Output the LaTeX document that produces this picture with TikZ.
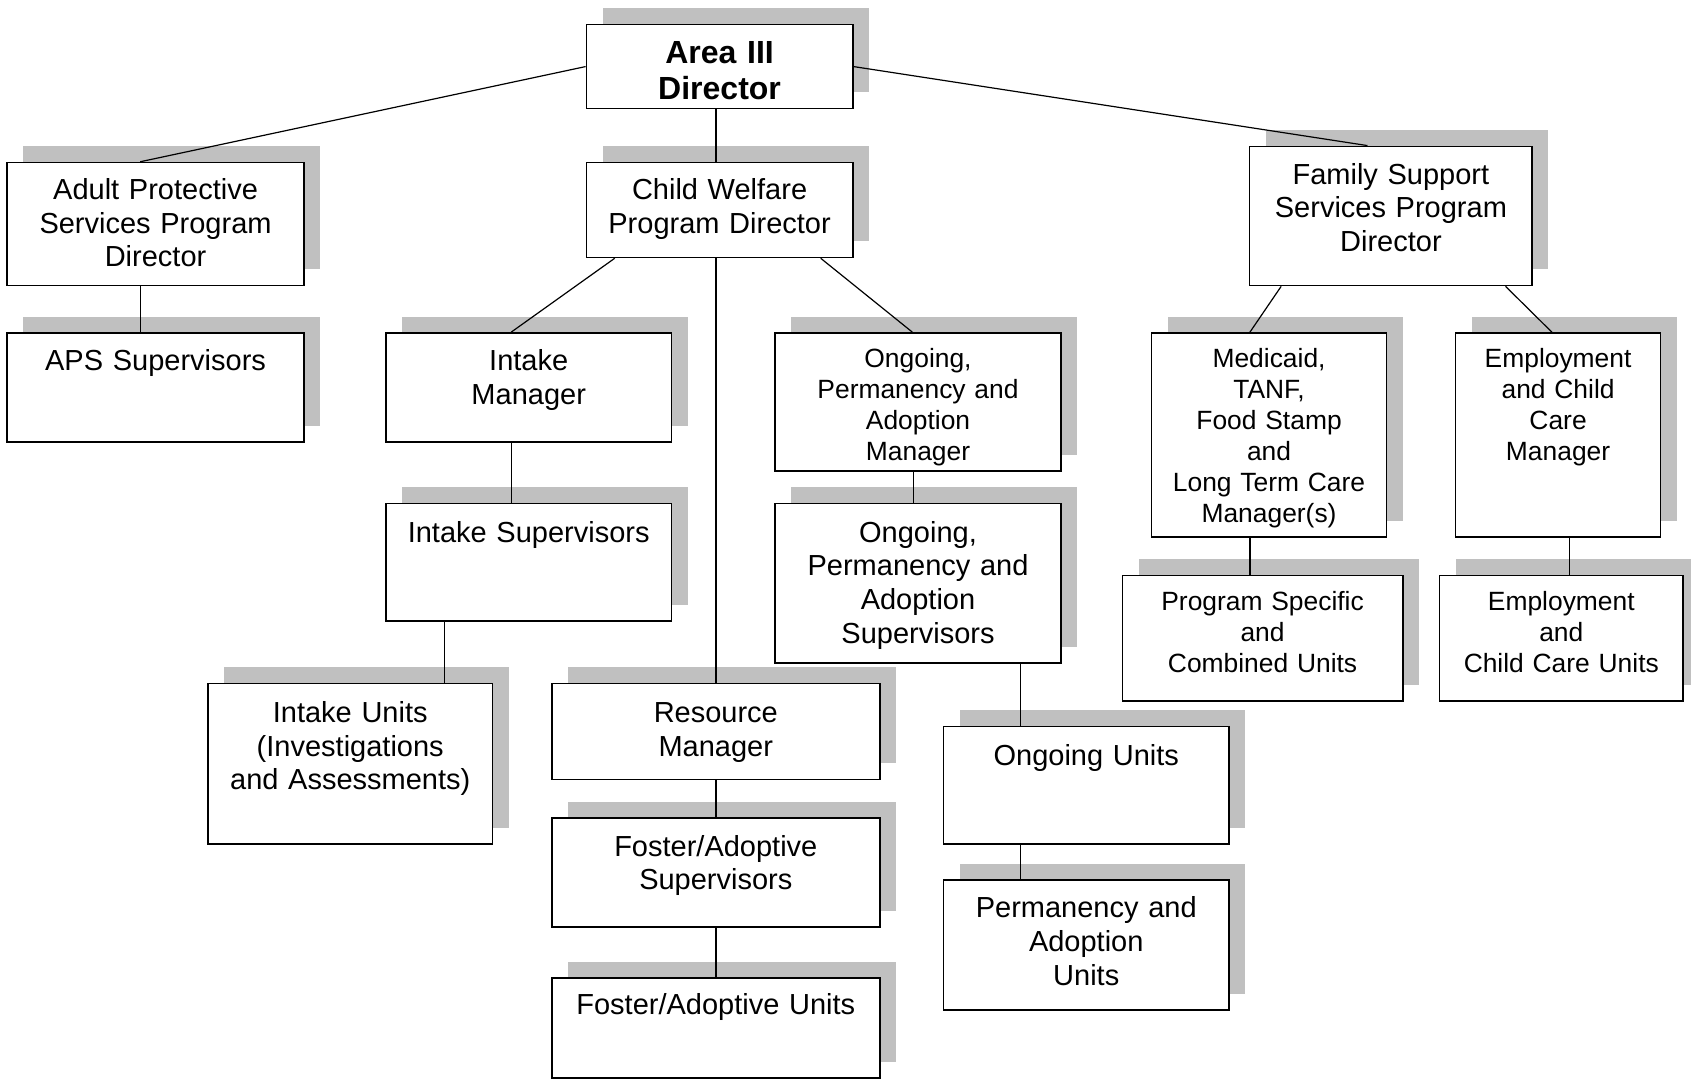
\documentclass[tikz,border=0pt]{standalone}
\usepackage{fontspec}
\setmainfont{Liberation Sans}
\usetikzlibrary{shadows}
\definecolor{shadowgray}{HTML}{C0C0C0}
\def\pxu{0.5392pt}

\tikzset{
  unit/.style={draw, line width=0.8pt, fill=white, inner sep=0pt, anchor=north west,
    align=center, font=\fontsize{14.5}{16.9}\selectfont,
    drop shadow={shadow xshift=8.1pt, shadow yshift=8.1pt, fill=shadowgray, opacity=1}},
  smalltext/.style={font=\fontsize{13.2}{15.5}\selectfont},
  headtext/.style={font=\fontsize{16}{17.8}\selectfont\bfseries},
  % width, height, first baseline (in picture units)
  wh/.style n args={3}{/utils/exec={%
      \pgfmathsetlengthmacro\boxw{#1*\pxu}%
      \pgfmathsetlengthmacro\boxh{#3*\pxu}%
      \pgfmathsetlengthmacro\boxd{(#2-#3)*\pxu}},
    text width=\boxw, text height=\boxh, text depth=\boxd},
  link/.style={line width=0.6pt}
}

\begin{document}
\begin{tikzpicture}[x=0.5392pt, y=-0.5392pt]
\useasboundingbox (0,0) rectangle (1568,1001);

% top level
\node[unit, headtext, wh={247}{78}{36.6}] (area) at (543,22) {Area III\\Director};

% program directors
\node[unit, wh={275}{114}{34}] (aps) at (6,150) {Adult Protective\\Services Program\\Director};
\node[unit, wh={247}{88}{34}] (cw) at (543,150) {Child Welfare\\Program Director};
\node[unit, wh={262}{129}{35}] (fss) at (1158,135) {Family Support\\Services Program\\Director};

% managers
\node[unit, wh={275}{101}{35}] (apssup) at (6,308) {APS Supervisors};
\node[unit, wh={265}{101}{35}] (intmgr) at (357,308) {Intake\\Manager};
\node[unit, smalltext, wh={265}{128}{31.6}] (ongmgr) at (718,308) {Ongoing,\\Permanency and\\Adoption\\Manager};
\node[unit, smalltext, wh={218}{189}{31.6}] (medmgr) at (1067,308) {Medicaid,\\TANF,\\Food Stamp\\and\\Long Term Care\\Manager(s)};
\node[unit, smalltext, wh={190}{189}{31.6}] (empmgr) at (1349,308) {Employment\\and Child\\Care\\Manager};

% supervisors
\node[unit, wh={265}{109}{36}] (intsup) at (357,466) {Intake Supervisors};
\node[unit, wh={265}{148}{36}] (ongsup) at (718,466) {Ongoing,\\Permanency and\\Adoption\\Supervisors};
\node[unit, smalltext, wh={260}{116}{32.6}] (psunits) at (1040,533) {Program Specific\\and\\Combined Units};
\node[unit, smalltext, wh={226}{116}{32.6}] (empunits) at (1334,533) {Employment\\and\\Child Care Units};

% units
\node[unit, wh={264}{149}{36}] (intunits) at (192,633) {Intake Units\\(Investigations\\and Assessments)};
\node[unit, wh={304}{89}{36}] (resmgr) at (511,633) {Resource\\Manager};
\node[unit, wh={265}{109}{36}] (ongunits) at (874,673) {Ongoing Units};
\node[unit, wh={304}{101}{35}] (fasup) at (511,758) {Foster/Adoptive\\Supervisors};
\node[unit, wh={265}{121}{35}] (paunits) at (874,815) {Permanency and\\Adoption\\Units};
\node[unit, wh={304}{93}{34}] (faunits) at (511,906) {Foster/Adoptive Units};

% connectors
\draw[link] (area.west) -- (130,0 |- aps.north);
\draw[link] (area.east) -- (1268,0 |- fss.north);
\draw[link] (664,0 |- area.south) -- (664,0 |- cw.north);
\draw[link] (130,0 |- aps.south) -- (130,0 |- apssup.north);
\draw[link] (570,0 |- cw.south) -- (474,0 |- intmgr.north);
\draw[link] (664,0 |- cw.south) -- (664,0 |- resmgr.north);
\draw[link] (761,0 |- cw.south) -- (846,0 |- ongmgr.north);
\draw[link] (1188,0 |- fss.south) -- (1159,0 |- medmgr.north);
\draw[link] (1396,0 |- fss.south) -- (1439,0 |- empmgr.north);
\draw[link] (474,0 |- intmgr.south) -- (474,0 |- intsup.north);
\draw[link] (847,0 |- ongmgr.south) -- (847,0 |- ongsup.north);
\draw[link] (1159,0 |- medmgr.south) -- (1159,0 |- psunits.north);
\draw[link] (1455,0 |- empmgr.south) -- (1455,0 |- empunits.north);
\draw[link] (412,0 |- intsup.south) -- (412,0 |- intunits.north);
\draw[link] (946,0 |- ongsup.south) -- (946,0 |- ongunits.north);
\draw[link] (664,0 |- resmgr.south) -- (664,0 |- fasup.north);
\draw[link] (664,0 |- fasup.south) -- (664,0 |- faunits.north);
\draw[link] (946,0 |- ongunits.south) -- (946,0 |- paunits.north);
\end{tikzpicture}
\end{document}
